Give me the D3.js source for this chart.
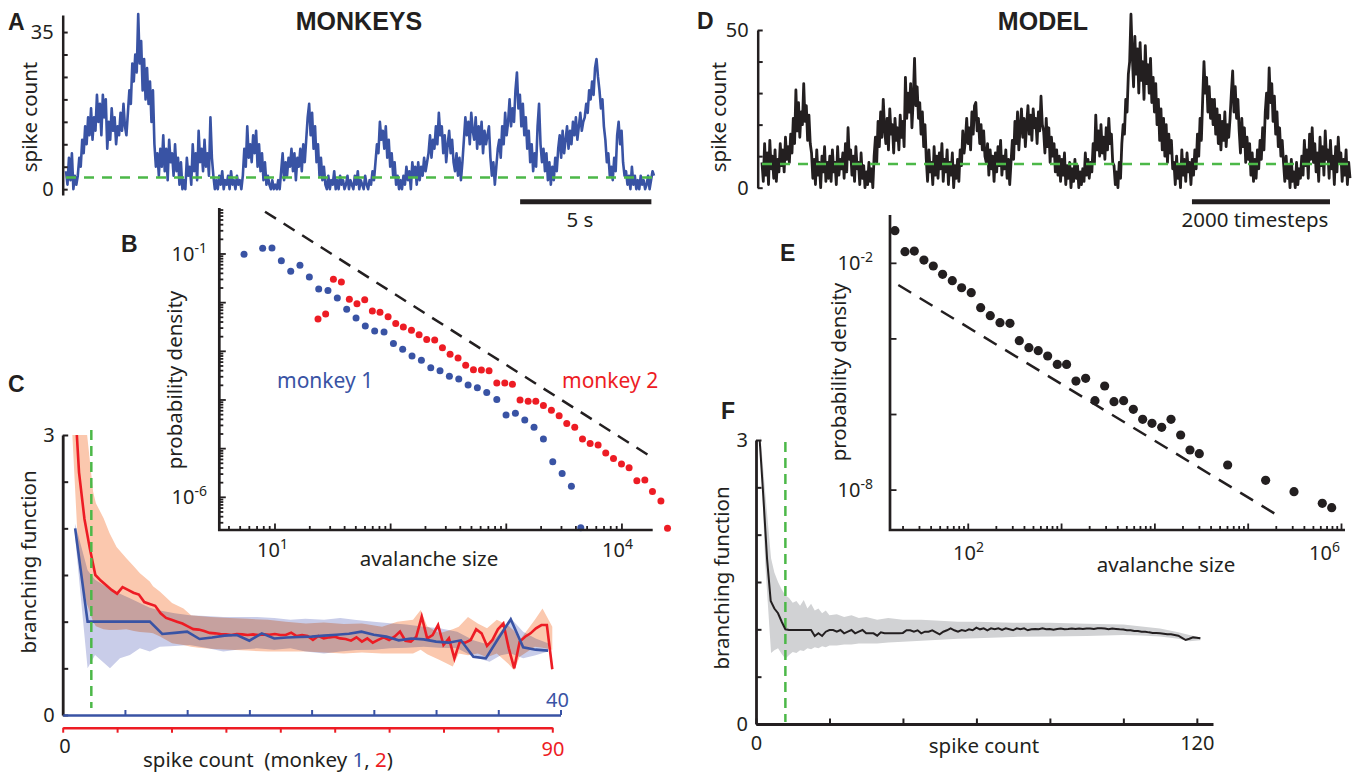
<!DOCTYPE html>
<html>
<head>
<meta charset="utf-8">
<script src="https://cdn.jsdelivr.net/npm/d3@7/dist/d3.min.js"></script>
<style>
  body { margin: 0; background: #fff; }
  svg { display: block; font-family: "Noto Sans", sans-serif; }
  .letter { font-family: "Liberation Sans", Arial, sans-serif; font-weight: bold; font-size: 23px; fill: #231f20; }
  .title { font-family: "Liberation Sans", Arial, sans-serif; font-weight: bold; font-size: 25px; fill: #231f20; }
  .lbl { font-size: 20px; fill: #231f20; }
  .axtitle { font-size: 20.5px; fill: #231f20; }
  .tick text { font-size: 20px; fill: #231f20; }
</style>
</head>
<body>
<div id="js-canvas"></div>
<script>
"use strict";

const ink = "#231f20";
const blue = "#3953a4";
const red = "#ed1c24";
const green = "#4cb848";

// Panel A: population spike count of monkey recording, one value per sample.
const monkeyTrace = [
  4, 1, 7, 2, 8, 0, 3, 1,
  3, 7, 5, 11, 8, 14, 10, 16, 12, 18, 11, 16, 13, 21, 15, 19, 12, 21, 16, 20,
  9, 15, 11, 18, 13, 16, 10, 14, 12, 17, 13, 19, 14, 12,
  17, 22, 19, 28, 24, 30, 26, 39, 28, 33, 22, 29, 20, 27, 19, 24, 15, 22,
  10, 5, 8, 3, 9, 5, 12, 4, 9, 2, 11, 6, 8, 3, 10, 4, 7, 1, 6, 0,
  2, 0, 7, 3, 5, 1, 10, 4, 8, 2, 13, 6, 9, 4, 11, 5, 8, 3, 16, 7,
  3, 0, 2, 0, 3, 1, 4, 0, 2, 1, 3, 0, 4, 1, 2, 0, 3, 1, 2, 0,
  3, 9, 5, 14, 7, 10, 6, 12, 8, 13, 5, 10, 4, 8, 2, 6, 1, 3,
  1, 0, 2, 0, 1, 0, 2, 0,
  4, 8, 2, 6, 3, 7, 5, 9, 4, 8, 2, 7, 5, 9, 4, 10, 6, 11,
  16, 19, 12, 17, 9, 14, 6, 10, 3, 7, 2, 5,
  1, 0, 3, 0, 2, 1, 4, 0, 2, 0, 3, 1, 2, 0, 1, 3, 0, 2, 1, 0, 3, 1, 4, 0, 2, 1, 0, 3, 1, 0, 2, 1, 4, 2,
  6, 10, 8, 15, 11, 13, 9, 14, 7, 11, 5, 8, 3, 6, 1, 3, 0, 2,
  0, 3, 1, 5, 2, 4, 0, 6, 3, 5, 1, 6, 2, 5, 3, 7, 4, 6,
  8, 12, 7, 11, 9, 14, 10, 17, 12, 14, 8, 12, 6, 10, 13, 8, 11, 6,
  4, 8, 3, 7, 2, 6,
  11, 16, 12, 15, 10, 17, 13, 11, 16, 9, 14, 10, 15, 8, 13, 10, 12, 14,
  7, 3, 6, 1, 5, 9,
  11, 7, 14, 10, 17, 12, 15, 20, 14, 18, 15, 22, 26, 18, 21, 14, 19, 12, 16, 9, 13, 6, 10, 4, 8, 5,
  14, 19, 10, 6, 9, 4, 8, 2, 6, 1, 5, 2, 7, 4,
  9, 12, 7, 13, 8, 11, 14, 9, 13, 10, 15, 12, 16, 11, 14, 17, 13, 15,
  16, 19, 17, 22, 20, 24, 21, 27, 29, 25, 22, 18, 20, 14,
  11, 6, 8, 3, 5, 2, 7, 4, 12, 15, 10, 13, 6, 3,
  4, 1, 3, 0, 5, 1, 3, 0, 2, 0, 3, 1, 2, 0, 1, 3, 0, 2, 4, 3
];
const monkeySeconds = 22.4;
const monkeyThreshold = 2.6;
const monkeyBar = [17.3, 22.3];

// Panel D: model spike count.
const modelTrace = [
  8, 2, 14, 4, 11, 1, 15, 6, 10, 3, 12, 2, 9, 5,
  14, 7, 12, 5, 16, 9, 13, 8, 17, 11,
  22, 14, 31, 18, 27, 16, 24, 20, 33, 21, 26, 15, 23, 14,
  11, 3, 9, 1, 12, 4, 8, 0, 10, 5, 13, 2, 8, 3,
  10, 2, 12, 5, 8, 1, 13, 4, 9, 6, 11, 3, 14, 5, 19, 9, 12, 4, 10, 2, 13, 6, 8, 1, 11, 3, 7, 0, 5, 1, 8, 2, 6, 0,
  10, 16, 8, 21, 13, 24, 16, 28, 19, 14, 22, 12, 25, 17, 20, 11, 22, 15, 19, 12, 23, 16, 21, 13,
  35, 22, 30, 24, 33, 19, 28, 41, 26, 32, 22, 27, 17, 24, 13, 20,
  9, 2, 12, 5, 8, 1, 13, 4, 10, 3, 11, 6, 14, 2, 9, 5, 12, 1, 8, 4, 11, 0, 7, 3, 9, 2,
  12, 7, 18, 11, 15, 22, 14, 19, 12, 24, 17, 26, 27, 18, 22, 14, 20, 12, 18, 10,
  8, 14, 4, 12, 6, 10, 2, 11, 5, 13, 7, 15, 4, 10, 6, 12, 3, 9, 1, 8,
  15, 9, 21, 14, 24, 12, 19, 25, 16, 22, 13, 20, 26, 17, 23, 15, 25, 19, 22, 14, 24, 18, 29, 20,
  18, 11, 22, 13, 19, 8, 16, 10, 14, 5, 12, 4, 10, 2, 9, 4, 11, 1, 7, 3, 8, 0, 6, 2,
  9, 3, 7, 0, 5, 1, 6, 2, 11, 4, 9, 3, 8, 5,
  14, 8, 23, 12, 18, 10, 20, 11, 16, 9, 19, 12, 22, 14, 17, 8,
  7, 1, 5, 0, 8, 3,
  14, 20, 17, 28, 24, 36, 40, 55,
  42, 32, 48, 36, 44, 30, 46, 34, 40, 28, 45, 33, 39, 30, 41, 27, 35, 24,
  33, 20, 28, 15, 25, 12, 22, 10, 20, 8, 17, 11, 15, 6,
  8, 1, 10, 3, 7, 0, 12, 4, 9, 2, 11, 5, 8, 1, 9, 4,
  12, 6, 17, 10, 22, 15, 28, 40, 30, 35, 24, 32, 22, 28,
  20, 28, 17, 25, 14, 23, 12, 21, 15, 24, 13, 20, 16, 22,
  30, 37, 24, 32, 22, 28,
  18, 11, 22, 13, 19, 8, 16, 9, 14, 4, 11, 2, 9, 3, 12, 6, 15, 9, 19, 12,
  24, 30, 22, 38, 27, 33, 21, 29, 17, 24, 13, 19, 10, 15,
  8, 2, 10, 3, 7, 0, 9, 2, 5, 0, 8, 1, 6, 3,
  10, 4, 15, 7, 12, 3, 17, 9, 19, 8, 14, 5, 11, 2, 16, 7, 13, 4, 18, 9,
  12, 3, 15, 6, 10, 1, 13, 5, 16, 8, 11, 2, 9, 4, 12, 1, 8, 3
];
const modelSteps = 8520;
const modelThreshold = 7.5;
const modelBar = [6230, 8230];

// Panel B: avalanche size distributions of the two monkeys.
const m1Size = [5.40, 7.82, 9.42, 11.35, 13.68, 16.44, 19.82, 23.88, 28.71, 34.59,
  41.69, 50.23, 60.39, 72.78, 87.70, 105.7, 127.1, 153.1, 184.5, 222.3,
  267.3, 322.1, 388.2, 467.7, 562.3, 677.5, 827.9, 995.4, 1199, 1445,
  1738, 2094, 2523, 3041, 3656, 4406];
const m1Dens = [0.0984, 0.131, 0.133, 0.0729, 0.0441, 0.0585, 0.0337, 0.0191, 0.0177, 0.01247,
  7.29e-3, 4.84e-3, 3.32e-3, 2.62e-3, 2.49e-3, 1.44e-3, 1.10e-3, 8.02e-4, 6.53e-4, 4.62e-4,
  4.01e-4, 3.07e-4, 2.70e-4, 2.03e-4, 1.79e-4, 1.42e-4, 1.02e-4, 4.92e-5, 5.32e-5, 3.88e-5,
  2.74e-5, 1.58e-5, 5.41e-6, 3.07e-6, 1.69e-6, 2.38e-7];
const m2Size = [23.55, 27.42, 31.99, 37.50, 43.95, 51.17, 59.70, 69.50, 80.91, 95.06,
  110.7, 128.8, 151.4, 176.2, 205.1, 240.4, 280.5, 326.6, 382.8, 445.6,
  520.0, 609.5, 709.6, 827.9, 970.5, 1130, 1315, 1545, 1799, 2094,
  2455, 2864, 3334, 3908, 4560, 5309, 6223, 7244, 8453, 9908,
  11535, 13459, 15776, 18365, 21727, 24774];
const m2Dens = [4.61e-3, 5.85e-3, 0.0302, 0.0266, 0.01172, 9.53e-3, 0.01153, 6.75e-3, 6.32e-3, 5.15e-3,
  3.71e-3, 3.16e-3, 2.70e-3, 2.20e-3, 1.74e-3, 1.71e-3, 1.19e-3, 8.67e-4, 7.29e-4, 5.15e-4,
  4.20e-4, 4.14e-4, 4.01e-4, 2.23e-4, 2.23e-4, 2.10e-4, 1.00e-4, 9.40e-5, 9.40e-5, 7.66e-5,
  6.14e-5, 4.76e-5, 3.27e-5, 2.75e-5, 1.58e-5, 1.27e-5, 1.19e-5, 8.15e-6, 6.24e-6, 4.84e-6,
  4.07e-6, 2.20e-6, 2.28e-6, 1.31e-6, 8.41e-7, 2.31e-7];
const monkeyGuideSize = [8.2, 18200];
const monkeyGuideDens = [0.74, 6.6e-6];

// Panel E: avalanche size distribution of the model.
const modelSize = [16.37, 20.99, 26.42, 33.50, 42.17, 53.09, 67.45, 84.92, 107.6, 135.8,
  172.2, 218.8, 279.9, 352.4, 446.7, 562.3, 709.6, 899.5, 1132, 1426,
  1811, 2280, 2897, 3648, 4624, 5875, 7396, 9311, 11830, 14890,
  18880, 23770, 29920, 60260, 153800, 309700, 622300, 785200];
const modelDens = [0.0729, 0.0203, 0.0211, 0.01222, 8.49e-3, 5.11e-3, 3.48e-3, 2.26e-3, 1.67e-3, 6.70e-4,
  4.12e-4, 2.69e-4, 2.58e-4, 8.97e-5, 5.86e-5, 4.89e-5, 3.53e-5, 2.12e-5, 2.12e-5, 7.69e-6,
  9.06e-6, 2.32e-6, 5.68e-6, 2.19e-6, 2.32e-6, 1.37e-6, 7.45e-7, 5.85e-7, 4.58e-7, 7.45e-7,
  2.87e-7, 1.15e-7, 9.20e-8, 4.61e-8, 1.81e-8, 9.08e-9, 4.47e-9, 3.43e-9];
const modelGuideSize = [17.8, 190500];
const modelGuideDens = [2.67e-3, 2.43e-9];

// Panel C: branching function of the monkeys (mean and spread).
const m1BranchStart = 1;
const m1Branch = [2.0, 1.0, 1.0, 1.0, 1.0, 1.0, 1.0, 0.868, 0.88, 0.893,
  0.814, 0.83, 0.85, 0.857, 0.796, 0.875, 0.82, 0.83, 0.835, 0.84,
  0.85, 0.86, 0.87, 0.893, 0.86, 0.84, 0.80, 0.82, 0.81, 0.786,
  0.775, 0.80, 0.625, 0.607, 0.82, 1.025, 0.725, 0.70, 0.69];
const m2BranchStart = 2;
const m2Branch = [3.6, 2.6, 2.1, 1.78, 1.5, 1.44, 1.39, 1.34, 1.30, 1.37,
  1.34, 1.31, 1.29, 1.21, 1.19, 1.17, 1.09, 1.04, 1.02, 1.0,
  0.98, 0.95, 0.92, 0.915, 0.90, 0.88, 0.875, 0.868, 0.864, 0.857,
  0.868, 0.864, 0.857, 0.864, 0.857, 0.864, 0.86, 0.868, 0.857, 0.857,
  0.882, 0.846, 0.857, 0.846, 0.804, 0.846, 0.821, 0.832, 0.839, 0.821,
  0.814, 0.796, 0.832, 0.786, 0.821, 0.775, 0.804, 0.832, 0.804, 0.839,
  0.893, 0.796, 0.786, 0.839, 1.054, 0.821, 0.857, 0.964, 0.75, 0.821,
  0.607, 0.786, 0.775, 0.804, 0.918, 0.875, 0.74, 0.804, 0.918, 0.98,
  0.714, 0.5, 0.786, 0.839, 0.875, 0.929, 0.964, 0.964, 0.49];
const m1BandX = [1, 2, 2.6, 3.8, 4.6, 5.4, 6.2, 7, 7.8, 9, 10.2, 11.5, 12.9, 14, 15.6, 17,
  18.3, 19.5, 21, 22.3, 23.6, 25, 26.3, 27.6, 29, 30.3, 31.7, 33, 34.3, 35.2, 36, 37, 38, 39];
const m1BandHi = [2.05, 1.55, 1.45, 1.35, 1.3, 1.25, 1.2, 1.15, 1.12, 1.09, 1.07, 1.06, 1.05, 1.05, 1.05, 1.04,
  1.02, 1.03, 1.02, 1.04, 1.018, 1.0, 0.982, 0.97, 0.946, 0.93, 0.893, 0.80, 0.75, 0.893, 1.036, 0.893, 0.82, 0.768];
const m1BandLo = [1.9, 0.5, 0.643, 0.5, 0.607, 0.643, 0.714, 0.68, 0.73, 0.74, 0.75, 0.72, 0.68, 0.70, 0.714, 0.70,
  0.714, 0.68, 0.66, 0.68, 0.696, 0.70, 0.714, 0.72, 0.732, 0.72, 0.714, 0.625, 0.57, 0.64, 0.66, 0.607, 0.64, 0.68];
const m2BandX = [1.6, 3, 4.4, 5.6, 6.1, 7.5, 8.6, 9.9, 11.7, 13.1, 14.2, 16, 16.6, 17.9, 20.1, 22.2,
  23.6, 25, 27.2, 30.7, 34, 37.7, 41, 44.7, 48, 51.7, 55, 58.7, 61.5, 64.4, 65.8, 67,
  69.3, 71.7, 72.8, 74.5, 76.3, 78, 79.8, 81.9, 83, 84, 86.8, 88.2, 90];
const m2BandHi = [3.3, 3.3, 3.05, 2.39, 2.27, 2.11, 1.95, 1.80, 1.68, 1.59, 1.52, 1.43, 1.38, 1.32, 1.2, 1.14,
  1.07, 1.06, 1.05, 1.04, 1.03, 1.02, 1.0, 0.98, 0.99, 0.975, 0.98, 0.946, 1.0, 1.02, 1.125, 0.95,
  0.875, 0.92, 0.946, 1.05, 0.98, 0.93, 1.02, 0.96, 0.9, 0.80, 1.02, 1.14, 0.946];
const m2BandLo = [3.2, 1.6, 1.2, 1.0, 0.95, 0.92, 0.91, 0.91, 0.918, 0.90, 0.89, 0.88, 0.875, 0.84, 0.77, 0.75,
  0.73, 0.72, 0.71, 0.70, 0.69, 0.68, 0.68, 0.68, 0.67, 0.66, 0.67, 0.66, 0.66, 0.66, 0.70, 0.65,
  0.59, 0.52, 0.66, 0.64, 0.66, 0.62, 0.66, 0.55, 0.48, 0.625, 0.73, 0.72, 0.70];
const monkeyCut = 2.3;   // in monkey 1 spike counts

// Panel F: branching function of the model.
const modelBranchStart = 1;
const modelBranch = [3.0, 2.4, 1.75, 1.3, 1.22, 1.17, 1.08, 1.0, 0.993, 0.993,
  0.993, 0.993, 0.993, 0.993, 0.993, 0.93, 0.958, 0.93, 0.975, 0.993,
  0.993, 0.975, 0.993, 0.958, 0.975, 0.993, 0.958, 0.975, 0.993, 0.958,
  0.958, 0.958, 0.933, 0.968, 0.958, 0.958, 0.958, 0.958, 0.958, 0.962,
  0.99, 0.99, 0.975, 0.99, 0.958, 0.975, 0.975, 0.99, 0.968, 0.947,
  0.975, 0.99, 1.01, 0.99, 0.975, 0.993, 0.982, 1.0, 0.99, 1.018,
  1.0, 1.01, 0.99, 1.01, 1.0, 1.01, 0.993, 1.01, 1.0, 0.99,
  1.01, 1.0, 1.01, 0.99, 1.0, 1.004, 1.0, 1.01, 1.0, 1.004,
  0.997, 1.004, 1.008, 1.0, 1.004, 1.01, 1.004, 1.008, 1.004, 1.01,
  1.008, 1.004, 1.011, 1.011, 1.008, 1.0, 1.008, 1.004, 1.0, 0.997,
  0.99, 0.99, 0.982, 0.982, 0.975, 0.975, 0.968, 0.962, 0.962, 0.958,
  0.953, 0.947, 0.947, 0.94, 0.933, 0.91, 0.887, 0.9, 0.915, 0.912,
  0.905];
const modelBandX = [1.2, 2.5, 4.1, 5, 6, 7, 8, 9, 10, 11, 12, 13, 14, 15, 16, 17, 18, 19, 20, 22,
  24, 26, 28, 30, 33, 36, 40, 45, 50, 55, 60, 70, 80, 90, 100, 105, 110, 115, 118, 121];
const modelBandHi = [3.05, 2.45, 1.75, 1.6, 1.5, 1.42, 1.36, 1.33, 1.28, 1.3, 1.25, 1.31, 1.22, 1.27, 1.2, 1.22, 1.17, 1.2, 1.15, 1.16,
  1.13, 1.15, 1.12, 1.13, 1.1, 1.12, 1.1, 1.1, 1.09, 1.08, 1.08, 1.07, 1.07, 1.06, 1.05, 1.03, 1.01, 0.97, 0.94, 0.915];
const modelBandLo = [2.95, 1.7, 0.75, 0.78, 0.80, 0.74, 0.69, 0.73, 0.76, 0.75, 0.78, 0.77, 0.80, 0.79, 0.81, 0.80, 0.82, 0.81, 0.83, 0.83,
  0.84, 0.84, 0.85, 0.85, 0.85, 0.86, 0.87, 0.88, 0.89, 0.90, 0.905, 0.92, 0.925, 0.93, 0.94, 0.935, 0.925, 0.9, 0.875, 0.885];
const modelCut = 8;

function createCanvas(width, height) {
  const svg = d3.select("#js-canvas")
    .append("svg")
      .attr("width", width)
      .attr("height", height);
  svg.append("rect")
    .attr("width", width)
    .attr("height", height)
    .attr("fill", "#fff");
  return svg;
}

function styleAxis(g, color) {
  g.attr("font-family", null).attr("font-size", null);
  g.select(".domain").attr("stroke", color).attr("stroke-width", 2.5);
  g.selectAll(".tick line").attr("stroke", color).attr("stroke-width", 2);
}

function addText(svg, x, y, str, cls, anchor) {
  return svg.append("text")
    .attr("class", cls)
    .attr("x", x)
    .attr("y", y)
    .attr("text-anchor", anchor || "middle")
    .text(str);
}

function addVerticalText(svg, x, y, str) {
  return svg.append("text")
    .attr("class", "axtitle")
    .attr("text-anchor", "middle")
    .attr("transform", "translate(" + x + "," + y + ") rotate(-90)")
    .text(str);
}

function addPower(svg, x, y, exp, anchor) {
  const t = svg.append("text")
    .attr("class", "lbl")
    .attr("x", x)
    .attr("y", y)
    .attr("text-anchor", anchor);
  t.append("tspan").text("10");
  t.append("tspan").attr("dy", -8).attr("font-size", 14).text(exp);
}

function drawTrace(svg, o) {
  const x = d3.scaleLinear().domain([0, o.length]).range(o.xRange);
  const step = o.length / (o.values.length - 1);
  const line = d3.line()
    .x(function (d, i) { return x(i * step); })
    .y(function (d) { return o.y(d); });

  svg.append("path")
    .datum(o.values)
    .attr("d", line)
    .attr("fill", "none")
    .attr("stroke", o.color)
    .attr("stroke-width", o.width)
    .attr("stroke-linejoin", "round");

  svg.append("line")
    .attr("x1", x(0)).attr("x2", x(o.length))
    .attr("y1", o.y(o.threshold)).attr("y2", o.y(o.threshold))
    .attr("stroke", green)
    .attr("stroke-width", 2.5)
    .attr("stroke-dasharray", "10,8");

  const axis = svg.append("g")
    .attr("transform", "translate(" + o.axisX + ",0)")
    .call(d3.axisLeft(o.y)
      .tickValues(o.ticks)
      .tickSizeInner(-5)
      .tickSizeOuter(0)
      .tickPadding(9)
      .tickFormat(function (d) { return o.labels.indexOf(d) >= 0 ? d : ""; }));
  styleAxis(axis, ink);

  svg.append("line")
    .attr("x1", x(o.bar[0])).attr("x2", x(o.bar[1]))
    .attr("y1", 201.7).attr("y2", 201.7)
    .attr("stroke", ink)
    .attr("stroke-width", 5);
  addText(svg, o.barLabelX, 227, o.barLabel, "axtitle");
}

function logTicks(scale) {
  const dom = scale.domain();
  const lo = Math.min(dom[0], dom[1]);
  const hi = Math.max(dom[0], dom[1]);
  const out = [];
  for (let e = Math.floor(Math.log10(lo)); e <= Math.ceil(Math.log10(hi)); e++) {
    for (let m = 1; m <= 9; m++) {
      const v = m * Math.pow(10, e);
      if (v >= lo && v <= hi) out.push({ v: v, major: m === 1 });
    }
  }
  return out;
}

function drawLogPanel(svg, o) {
  const x = o.x;
  const y = o.y;
  const left = x.range()[0], right = x.range()[1];
  const bottom = y.range()[0], top = y.range()[1];

  svg.append("line")
    .attr("x1", x(o.guideSize[0])).attr("y1", y(o.guideDens[0]))
    .attr("x2", x(o.guideSize[1])).attr("y2", y(o.guideDens[1]))
    .attr("stroke", ink)
    .attr("stroke-width", 2.5)
    .attr("stroke-dasharray", o.guideDash);

  o.series.forEach(function (s) {
    svg.append("g")
      .selectAll("circle")
      .data(s.size)
      .enter()
      .append("circle")
        .attr("cx", function (d) { return x(d); })
        .attr("cy", function (d, i) { return y(s.dens[i]); })
        .attr("r", o.radius)
        .attr("fill", s.color);
  });

  const g = svg.append("g").attr("stroke", ink);
  g.selectAll(null)
    .data(logTicks(x))
    .enter()
    .append("line")
      .attr("x1", function (d) { return x(d.v); })
      .attr("x2", function (d) { return x(d.v); })
      .attr("y1", bottom)
      .attr("y2", function (d) { return bottom - (d.major ? 6.5 : 4); })
      .attr("stroke-width", 1.8);
  g.selectAll(null)
    .data(o.yTicks || logTicks(y))
    .enter()
    .append("line")
      .attr("x1", left)
      .attr("x2", function (d) { return left + (d.major ? 6.5 : 4); })
      .attr("y1", function (d) { return y(d.v); })
      .attr("y2", function (d) { return y(d.v); })
      .attr("stroke-width", 1.8);
  svg.append("path")
    .attr("d", "M" + left + "," + top + "V" + bottom + "H" + right)
    .attr("fill", "none")
    .attr("stroke", ink)
    .attr("stroke-width", 2.7);
}

function drawBranchAxisY(svg, y, axisX) {
  const axis = svg.append("g")
    .attr("transform", "translate(" + axisX + ",0)")
    .call(d3.axisLeft(y)
      .tickValues([0, 0.5, 1, 1.5, 2, 2.5, 3])
      .tickSizeInner(-5.5)
      .tickSizeOuter(0)
      .tickPadding(8)
      .tickFormat(function (d) { return d === 0 || d === 3 ? d : ""; }));
  styleAxis(axis, ink);
  axis.select(".domain").attr("stroke-width", 2.8);
}

function drawMonkeyBranch(svg) {
  const xb = d3.scaleLinear().domain([0, 40]).range([62.7, 560.5]);
  const xr = d3.scaleLinear().domain([0, 90]).range([62.7, 552.3]);
  const y = d3.scaleLinear().domain([0, 3]).range([715, 435]);

  svg.append("clipPath").attr("id", "clip-c")
    .append("rect").attr("x", 62).attr("y", 435).attr("width", 560).attr("height", 290);
  const plot = svg.append("g").attr("clip-path", "url(#clip-c)");

  const band = function (xs) {
    return d3.area()
      .x(function (d) { return xs(d.x); })
      .y0(function (d) { return y(d.lo); })
      .y1(function (d) { return y(d.hi); });
  };
  const m1Band = m1BandX.map(function (v, i) { return { x: v, lo: m1BandLo[i], hi: m1BandHi[i] }; });
  const m2Band = m2BandX.map(function (v, i) { return { x: v, lo: m2BandLo[i], hi: m2BandHi[i] }; });

  plot.append("path").datum(m1Band).attr("d", band(xb)).attr("fill", "#c9cde9");
  plot.append("path").datum(m2Band).attr("d", band(xr))
    .attr("fill", "#fbc8ae")
    .style("mix-blend-mode", "multiply");

  svg.append("line")
    .attr("x1", xb(monkeyCut)).attr("x2", xb(monkeyCut))
    .attr("y1", 430).attr("y2", 708)
    .attr("stroke", green)
    .attr("stroke-width", 2.5)
    .attr("stroke-dasharray", "10,6");

  const lineOf = function (xs, start) {
    return d3.line()
      .x(function (d, i) { return xs(start + i); })
      .y(function (d) { return y(d); });
  };
  plot.append("path").datum(m2Branch).attr("d", lineOf(xr, m2BranchStart))
    .attr("fill", "none").attr("stroke", red).attr("stroke-width", 2.6);
  plot.append("path").datum(m1Branch).attr("d", lineOf(xb, m1BranchStart))
    .attr("fill", "none").attr("stroke", blue).attr("stroke-width", 2.6);

  drawBranchAxisY(svg, y, 62.7);

  const bAxis = svg.append("g")
    .attr("transform", "translate(0,715)")
    .call(d3.axisBottom(xb)
      .tickValues(d3.range(5, 41, 5))
      .tickSizeInner(-5)
      .tickSizeOuter(0)
      .tickFormat(""));
  styleAxis(bAxis, blue);

  const rAxis = svg.append("g")
    .attr("transform", "translate(0,727.7)")
    .call(d3.axisBottom(xr)
      .tickValues(d3.range(0, 91, 10))
      .tickSizeInner(5)
      .tickSizeOuter(0)
      .tickFormat(""));
  styleAxis(rAxis, red);

  addText(svg, 65, 753, "0", "lbl");
  addText(svg, 553, 756, "90", "lbl").style("fill", red);
  addText(svg, 557.5, 706.5, "40", "lbl").style("fill", blue);
  const t = addText(svg, 268, 767, "spike count  (monkey ", "axtitle");
  t.attr("xml:space", "preserve").style("white-space", "pre");
  t.append("tspan").style("fill", blue).text("1");
  t.append("tspan").text(", ");
  t.append("tspan").style("fill", red).text("2");
  t.append("tspan").text(")");
  addVerticalText(svg, 36, 562, "branching function");
}

function drawModelBranch(svg) {
  const x = d3.scaleLinear().domain([0, 120]).range([756, 1196.7]);
  const y = d3.scaleLinear().domain([0, 3]).range([724, 440]);
  const band = modelBandX.map(function (v, i) { return { x: v, lo: modelBandLo[i], hi: modelBandHi[i] }; });

  svg.append("path").datum(band)
    .attr("d", d3.area()
      .x(function (d) { return x(d.x); })
      .y0(function (d) { return y(d.lo); })
      .y1(function (d) { return y(d.hi); }))
    .attr("fill", "#d1d2d4");

  svg.append("line")
    .attr("x1", x(modelCut)).attr("x2", x(modelCut))
    .attr("y1", 442).attr("y2", 722)
    .attr("stroke", green)
    .attr("stroke-width", 2.5)
    .attr("stroke-dasharray", "10,6");

  svg.append("path").datum(modelBranch)
    .attr("d", d3.line()
      .x(function (d, i) { return x(modelBranchStart + i); })
      .y(function (d) { return y(d); }))
    .attr("fill", "none")
    .attr("stroke", ink)
    .attr("stroke-width", 2);

  drawBranchAxisY(svg, y, 756);

  const xAxis = svg.append("g")
    .attr("transform", "translate(0,724)")
    .call(d3.axisBottom(x.copy().domain([0, 124.4]).range([756, 1213]))
      .tickValues(d3.range(0, 121, 20))
      .tickSizeInner(-5.5)
      .tickSizeOuter(0)
      .tickPadding(12)
      .tickFormat(function (d) { return d === 0 || d === 120 ? d : ""; }));
  styleAxis(xAxis, ink);
  xAxis.select(".domain").attr("stroke-width", 2.8);

  addText(svg, 984, 753, "spike count", "axtitle");
  addVerticalText(svg, 729, 578, "branching function");
}

function drawMonkeyDistribution(svg) {
  const x = d3.scaleLog().domain([3.3, 18450]).range([219.3, 652.7]);
  const y = d3.scaleLog().domain([2.13e-7, 0.881]).range([530, 208]);
  drawLogPanel(svg, {
    x: x, y: y, radius: 3.5,
    guideSize: monkeyGuideSize, guideDens: monkeyGuideDens, guideDash: "13,9",
    series: [
      { size: m1Size, dens: m1Dens, color: blue },
      { size: m2Size, dens: m2Dens, color: red }
    ]
  });
  addPower(svg, 207, 261, "-1", "end");
  addPower(svg, 207, 504, "-6", "end");
  addPower(svg, 257, 557, "1", "start");
  addPower(svg, 602, 557, "4", "start");
  addText(svg, 429, 566, "avalanche size", "axtitle");
  addVerticalText(svg, 182, 380, "probability density");
  addText(svg, 277, 388, "monkey 1", "axtitle", "start").style("fill", blue).style("font-size", "21px");
  addText(svg, 562, 388, "monkey 2", "axtitle", "start").style("fill", red).style("font-size", "21px");
}

function drawModelDistribution(svg) {
  const x = d3.scaleLog().domain([14.5, 1.09e6]).range([890, 1345]);
  const y = d3.scaleLog().domain([8.8e-10, 0.19]).range([530, 215]);
  drawLogPanel(svg, {
    x: x, y: y, radius: 4.6,
    guideSize: modelGuideSize, guideDens: modelGuideDens, guideDash: "15,10",
    yTicks: [1e-2, 1e-4, 1e-6, 1e-8].map(function (v) { return { v: v, major: true }; }),
    series: [{ size: modelSize, dens: modelDens, color: ink }]
  });
  addPower(svg, 873, 270, "-2", "end");
  addPower(svg, 873, 497, "-8", "end");
  addPower(svg, 953, 560, "2", "start");
  addPower(svg, 1309, 560, "6", "start");
  addText(svg, 1166, 572, "avalanche size", "axtitle");
  addVerticalText(svg, 846, 372, "probability density");
}

const svg = createCanvas(1364, 777);

drawTrace(svg, {
  values: monkeyTrace, length: monkeySeconds, xRange: [66, 654],
  y: d3.scaleLinear().domain([-1.3, 38.8]).range([195, 15]),
  ticks: [0, 5, 10, 15, 20, 25, 30, 35], labels: [0, 35],
  axisX: 62.7, color: blue, width: 2.6, threshold: monkeyThreshold,
  bar: monkeyBar, barLabel: "5 s", barLabelX: 580
});
drawTrace(svg, {
  values: modelTrace, length: modelSteps, xRange: [762, 1350],
  y: d3.scaleLinear().domain([0, 50]).range([187.7, 30]),
  ticks: [0, 10, 20, 30, 40, 50], labels: [0, 50],
  axisX: 757.7, color: ink, width: 2.8, threshold: modelThreshold,
  bar: modelBar, barLabel: "2000 timesteps", barLabelX: 1255
});

addVerticalText(svg, 37, 117, "spike count");
addVerticalText(svg, 726, 117, "spike count");

drawMonkeyBranch(svg);
drawModelBranch(svg);
drawMonkeyDistribution(svg);
drawModelDistribution(svg);

addText(svg, 359, 30, "MONKEYS", "title");
addText(svg, 1043, 30, "MODEL", "title");
addText(svg, 8, 30, "A", "letter", "start");
addText(svg, 697, 29, "D", "letter", "start");
addText(svg, 121, 252, "B", "letter", "start");
addText(svg, 780, 261, "E", "letter", "start");
addText(svg, 8, 392, "C", "letter", "start");
addText(svg, 721, 419, "F", "letter", "start");
</script>
</body>
</html>
